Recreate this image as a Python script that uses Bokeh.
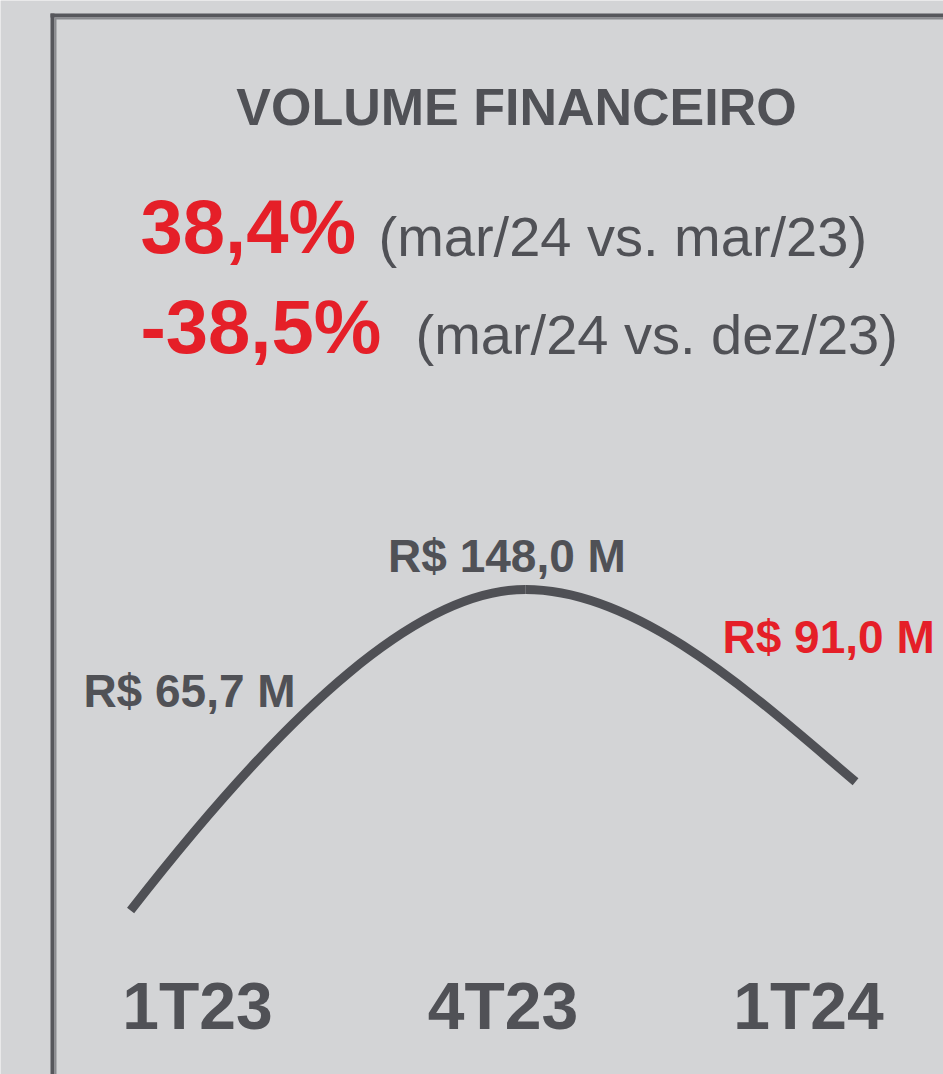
import math
from bokeh.plotting import figure
from bokeh.models import Range1d
from bokeh.core.properties import value
from bokeh.embed import file_html
from bokeh.resources import INLINE

# ---- data ----
categories = ["1T23", "4T23", "1T24"]
volumes = [65.7, 148.0, 91.0]            # R$ milhões
value_labels = ["R$ 65,7 M", "R$ 148,0 M", "R$ 91,0 M"]
title_text = "VOLUME FINANCEIRO"
pct_values = ["38,4%", "-38,5%"]
pct_notes = ["(mar/24 vs. mar/23)", "(mar/24 vs. dez/23)"]

# ---- layout ----
W, H = 943, 1074
X0, XSCALE = -197 / 305.5, 305.5
LREF, PREF, LSCALE = math.log(148.0), 589.0, 395.3   # log-scale layout anchor
BG = "#d3d4d6"
GRAY = "#505156"
RED = "#e51f28"
FONT = value("Liberation Sans")

def px(sx):
    return X0 + sx / XSCALE

def py(sy):
    return math.exp(LREF - (sy - PREF) / LSCALE)

def lerp_log(a, b, f):
    return math.exp(math.log(a) + f * (math.log(b) - math.log(a)))

p = figure(width=W, height=H, output_backend="svg", toolbar_location=None,
           x_range=Range1d(px(0), px(W)), y_range=Range1d(py(H), py(0)),
           y_axis_type="log",
           min_border=0, background_fill_color=BG, border_fill_color=BG,
           outline_line_color=None)
p.axis.visible = False
p.grid.visible = False

# panel border
p.quad(left=[px(50)], right=[px(54)], top=[py(13)], bottom=[py(1100)],
       fill_color="#56575c", line_color=None)
p.quad(left=[px(50)], right=[px(1000)], top=[py(13)], bottom=[py(17)],
       fill_color="#56575c", line_color=None)
p.quad(left=[px(54)], right=[px(56)], top=[py(17)], bottom=[py(1100)],
       fill_color="#8a8b8f", line_color=None)
p.quad(left=[px(54)], right=[px(1000)], top=[py(17)], bottom=[py(19)],
       fill_color="#8a8b8f", line_color=None)

# curve positions (layout) for each data point
curve_x = [-0.219, 1.074, 2.154]
v0, v1, v2 = volumes
x0, x1, x2 = curve_x
p.bezier(x0=[x0, x1], y0=[v0, v1], x1=[x1, x2], y1=[v1, v2],
         cx0=[x0 + 0.405 * (x1 - x0), x1 + 0.35 * (x2 - x1)],
         cy0=[lerp_log(v0, v1, 0.64), v1],
         cx1=[x0 + 0.734 * (x1 - x0), x1 + 0.71 * (x2 - x1)],
         cy1=[v1, lerp_log(v1, v2, 0.58)],
         line_color="#4f5055", line_width=9, line_cap="butt")

# title
p.text(x=[px(516)], y=[py(106)], text=[title_text], text_font=FONT,
       text_font_style="bold", text_font_size="52px", text_color=GRAY,
       text_align="center", text_baseline="alphabetic")

# percentages
p.text(x=[px(140), px(140)], y=[py(226), py(326)], text=pct_values, text_font=FONT,
       text_font_style="bold", text_font_size="76px", text_color=RED,
       text_align="left", text_baseline="alphabetic")
p.text(x=[px(378), px(415)], y=[py(236), py(334)], text=pct_notes, text_font=FONT,
       text_font_size="56px", text_color=GRAY,
       text_align="left", text_baseline="alphabetic")

# value labels
cat_idx = list(range(len(categories)))
p.text(x=cat_idx, y=volumes, text=value_labels, text_font=FONT,
       text_font_style="bold", text_font_size="46px",
       text_color=[GRAY, GRAY, RED], text_align=["center", "center", "left"],
       x_offset=[-8, 4, -86], y_offset=[-220, -34, -145],
       text_baseline="alphabetic")

# category labels
p.text(x=cat_idx, y=[py(1005)] * len(categories), text=categories, text_font=FONT,
       text_font_style="bold", text_font_size="66px", text_color=GRAY,
       text_align="center", text_baseline="alphabetic")

html = file_html(p, INLINE)
html = html.replace("<body>", '<body style="background:%s">' % BG, 1)
open("out.html", "w").write(html)
